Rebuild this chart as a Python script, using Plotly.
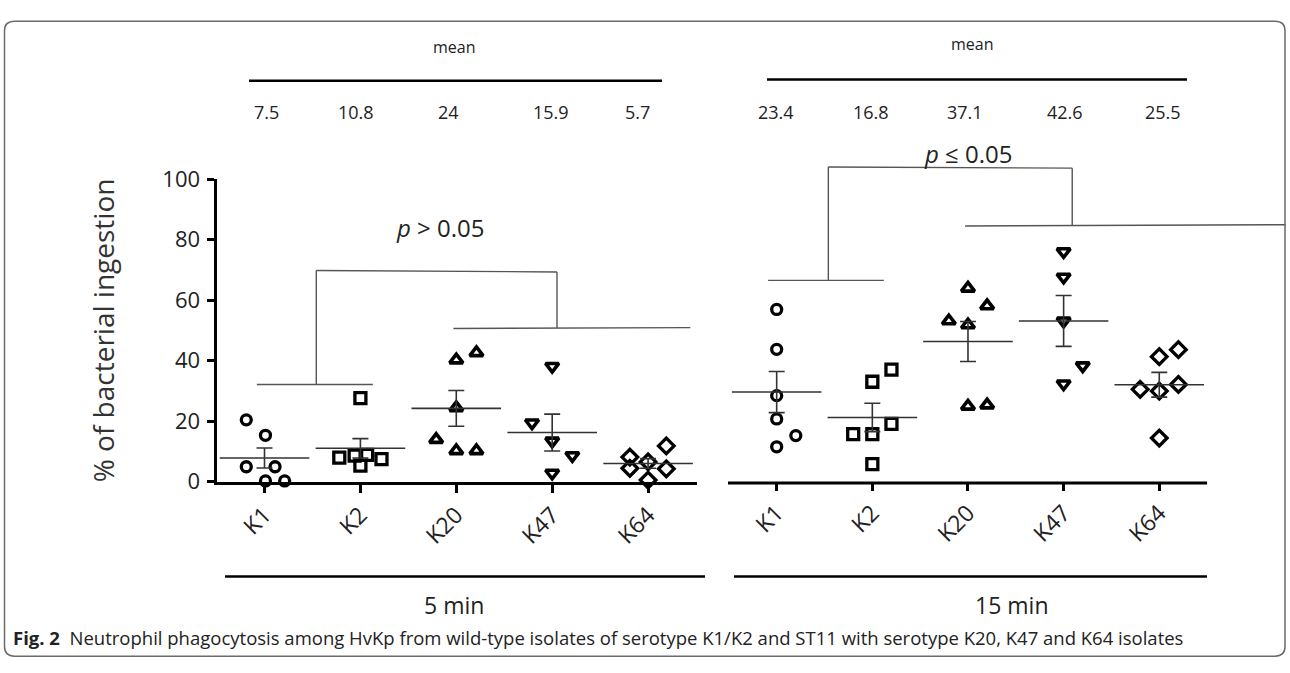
import plotly.graph_objects as go

# ---------------- data ----------------
categories = ["K1", "K2", "K20", "K47", "K64"]

# 5 min values (% of bacterial ingestion) and horizontal jitter (category units)
k1_5 = [20.4, 15.3, 4.9, 4.9, 0.2, 0.2]
k1_5_jit = [-0.19, 0.01, -0.19, 0.11, 0.01, 0.21]
k2_5 = [27.6, 8.6, 8.8, 7.9, 7.4, 5.3]
k2_5_jit = [0.0, -0.06, 0.07, -0.22, 0.22, 0.0]
k20_5 = [42.6, 40.2, 24.4, 13.9, 10.2, 10.2]
k20_5_jit = [0.21, 0.0, 0.0, -0.21, 0.0, 0.21]
k47_5 = [38.1, 19.4, 13.4, 8.6, 2.8]
k47_5_jit = [0.0, -0.21, 0.0, 0.21, 0.0]
k64_5 = [11.8, 8.1, 6.5, 4.4, 4.2, 0.5]
k64_5_jit = [0.19, -0.19, 0.0, -0.19, 0.19, 0.0]

# 15 min values
k1_15 = [56.9, 43.7, 28.4, 20.7, 15.2, 11.5]
k1_15_jit = [0.0, 0.0, 0.0, 0.0, 0.2, 0.0]
k2_15 = [37.0, 33.0, 19.1, 15.7, 15.7, 5.8]
k2_15_jit = [0.2, 0.0, 0.2, -0.2, 0.0, 0.0]
k20_15 = [63.9, 58.1, 53.1, 51.8, 25.3, 24.9]
k20_15_jit = [0.0, 0.2, -0.2, 0.0, 0.2, 0.0]
k47_15 = [76.0, 67.6, 53.1, 38.3, 32.3]
k47_15_jit = [0.0, 0.0, 0.0, 0.2, 0.0]
k64_15 = [43.6, 41.3, 32.1, 30.5, 29.9, 14.4]
k64_15_jit = [0.2, 0.0, 0.2, -0.2, 0.0, 0.0]

# mean +/- SEM as drawn
means_5 = [7.8, 11.0, 24.2, 16.2, 6.0]
sem_5 = [3.3, 3.2, 5.9, 6.1, 1.6]
means_15 = [29.6, 21.2, 46.3, 53.1, 32.0]
sem_15 = [6.8, 4.7, 6.6, 8.4, 4.1]

# header mean labels
mean_labels_5 = ["7.5", "10.8", "24", "15.9", "5.7"]
mean_labels_15 = ["23.4", "16.8", "37.1", "42.6", "25.5"]

y_ticks = [0, 20, 40, 60, 80, 100]

caption = ("<b>Fig. 2</b>  Neutrophil phagocytosis among HvKp from wild-type isolates of serotype "
           "K1/K2 and ST11 with serotype K20, K47 and K64 isolates")

# ---------------- layout helpers ----------------
W, H = 1290, 673
FONT = "Open Sans"


def px(x):
    return x / W


def py(y):
    return 1 - y / H


symbols = ["circle-open", "square-open", "triangle-up-open", "triangle-down-open", "diamond-open"]
sizes = [10, 11, 11.5, 11.5, 12]
widths = [3.3, 3.3, 3.6, 3.6, 3.3]

groups_5 = [(k1_5, k1_5_jit), (k2_5, k2_5_jit), (k20_5, k20_5_jit), (k47_5, k47_5_jit), (k64_5, k64_5_jit)]
groups_15 = [(k1_15, k1_15_jit), (k2_15, k2_15_jit), (k20_15, k20_15_jit), (k47_15, k47_15_jit),
             (k64_15, k64_15_jit)]

fig = go.Figure()

for panel, (groups, means, sems) in enumerate([(groups_5, means_5, sem_5), (groups_15, means_15, sem_15)]):
    xa = "x" if panel == 0 else "x2"
    ya = "y" if panel == 0 else "y2"
    for i, (vals, jit) in enumerate(groups):
        fig.add_trace(go.Scatter(
            x=[i + j for j in jit], y=vals, mode="markers", xaxis=xa, yaxis=ya,
            cliponaxis=False, showlegend=False, hoverinfo="y",
            marker=dict(symbol=symbols[i], size=sizes[i], color="black",
                        line=dict(width=widths[i], color="black")),
        ))
    fig.add_trace(go.Scatter(
        x=list(range(len(categories))), y=means, mode="markers", xaxis=xa, yaxis=ya,
        cliponaxis=False, showlegend=False,
        marker=dict(symbol="line-ew", size=64, line=dict(width=1.6, color="#333")),
        error_y=dict(type="data", array=sems, visible=True, thickness=1.6, width=8, color="#333"),
    ))

# ---------------- shapes ----------------
shapes = []


def seg(x0, y0, x1, y1, xref, yref, width=1.4, color="#555"):
    shapes.append(dict(type="line", x0=x0, y0=y0, x1=x1, y1=y1, xref=xref, yref=yref,
                       line=dict(width=width, color=color)))


# left significance bracket (data coords)
seg(-0.08, 32.1, 1.13, 32.1, "x", "y")
seg(0.54, 32.1, 0.54, 69.8, "x", "y")
seg(0.54, 69.8, 3.05, 69.3, "x", "y")
seg(3.05, 69.3, 3.05, 50.8, "x", "y")
seg(1.97, 50.6, 4.44, 50.9, "x", "y")

# right significance bracket
seg(-0.09, 66.5, 1.12, 66.5, "x2", "y2")
seg(0.54, 66.5, 0.54, 104.0, "x2", "y2")
seg(0.54, 104.0, 3.09, 103.6, "x2", "y2")
seg(3.09, 103.6, 3.09, 84.6, "x2", "y2")
seg(1.97, 84.5, 5.32, 84.9, "x2", "y2")

# right panel baseline (axis line)
seg(-0.509, py(488.8), 4.5, py(488.8), "x2", "paper", width=3, color="black")

# header lines and bottom group lines
seg(px(249), py(67.7), px(662), py(67.7), "paper", "paper", width=2.4, color="black")
seg(px(767), py(66.5), px(1187), py(66.5), "paper", "paper", width=2.4, color="black")
seg(px(225), py(586.7), px(705), py(586.7), "paper", "paper", width=2.4, color="black")
seg(px(734), py(586.7), px(1207), py(586.7), "paper", "paper", width=2.4, color="black")

# rounded frame
x0, x1 = px(4.5), px(1285)
yt, yb = py(5.5), py(670)
rx, ry = 10 / W, 10 / H
frame = (f"M {x0},{yt - ry} Q {x0},{yt} {x0 + rx},{yt} L {x1 - rx},{yt} Q {x1},{yt} {x1},{yt - ry} "
         f"L {x1},{yb + ry} Q {x1},{yb} {x1 - rx},{yb} L {x0 + rx},{yb} Q {x0},{yb} {x0},{yb + ry} Z")
shapes.append(dict(type="path", path=frame, xref="paper", yref="paper", line=dict(width=1.5, color="#6b6b6b")))

# ---------------- annotations ----------------
ann = []


def txt(x, y, s, size, anchor="center", angle=0, color="#222"):
    ann.append(dict(x=x, y=y, xref="paper", yref="paper", text=s, showarrow=False, xanchor=anchor,
                    yanchor="middle", textangle=angle, font=dict(family=FONT, size=size, color=color)))


txt(px(454), py(32), "mean", 16)
txt(px(972), py(29), "mean", 16)
for lab, xp in zip(mean_labels_5, [266, 356, 448, 551, 637]):
    txt(px(xp), py(101), lab, 18)
for lab, xp in zip(mean_labels_15, [776, 871, 965, 1065, 1163]):
    txt(px(xp), py(101), lab, 18)

txt(px(441), py(221), "<i>p</i> > 0.05", 24)
txt(px(968), py(144), "<i>p</i> ≤ 0.05", 24)
txt(px(454), py(617), "5 min", 23)
txt(px(1011), py(617), "15 min", 23)
txt(px(103), py(329), "% of bacterial ingestion", 28, angle=-90, color="#333")
txt(px(11), py(651), caption, 18.5, anchor="left")

# ---------------- axes ----------------
tickfont = dict(family=FONT, size=23, color="#222")

fig.update_layout(
    width=W, height=H, margin=dict(l=0, r=0, t=0, b=0),
    paper_bgcolor="white", plot_bgcolor="rgba(0,0,0,0)",
    showlegend=False, shapes=shapes, annotations=ann,
    xaxis=dict(domain=[px(216.5), px(697)], range=[-0.5005, 4.51], anchor="y",
               tickmode="array", tickvals=list(range(5)), ticktext=categories, tickangle=-45,
               showline=True, linewidth=3, linecolor="black", ticks="outside", ticklen=8,
               tickwidth=3, tickcolor="black", showgrid=False, zeroline=False, tickfont=tickfont),
    yaxis=dict(domain=[py(487.3), py(170.7)], range=[0, 100], anchor="x",
               tickmode="array", tickvals=y_ticks, showline=True, linewidth=3, linecolor="black",
               ticks="outside", ticklen=7, tickwidth=2.5, tickcolor="black", showgrid=False,
               zeroline=False, tickfont=dict(family=FONT, size=22, color="#222"), ticklabelstandoff=2),
    xaxis2=dict(domain=[px(728), px(1286)], range=[-0.509, 5.325], anchor="y2",
                tickmode="array", tickvals=list(range(5)), ticktext=categories, tickangle=-45,
                showline=False, ticks="outside", ticklen=8, tickwidth=3, tickcolor="black",
                showgrid=False, zeroline=False, tickfont=tickfont),
    yaxis2=dict(domain=[py(487.3), py(139.0)], range=[0, 110], anchor="x2",
                showline=False, showticklabels=False, ticks="", showgrid=False, zeroline=False),
)

post = ("document.documentElement.style.margin='0';document.body.style.margin='0';"
        "document.body.style.overflow='hidden';")

fig.write_html("out.html", config={"displayModeBar": False}, post_script=post)
